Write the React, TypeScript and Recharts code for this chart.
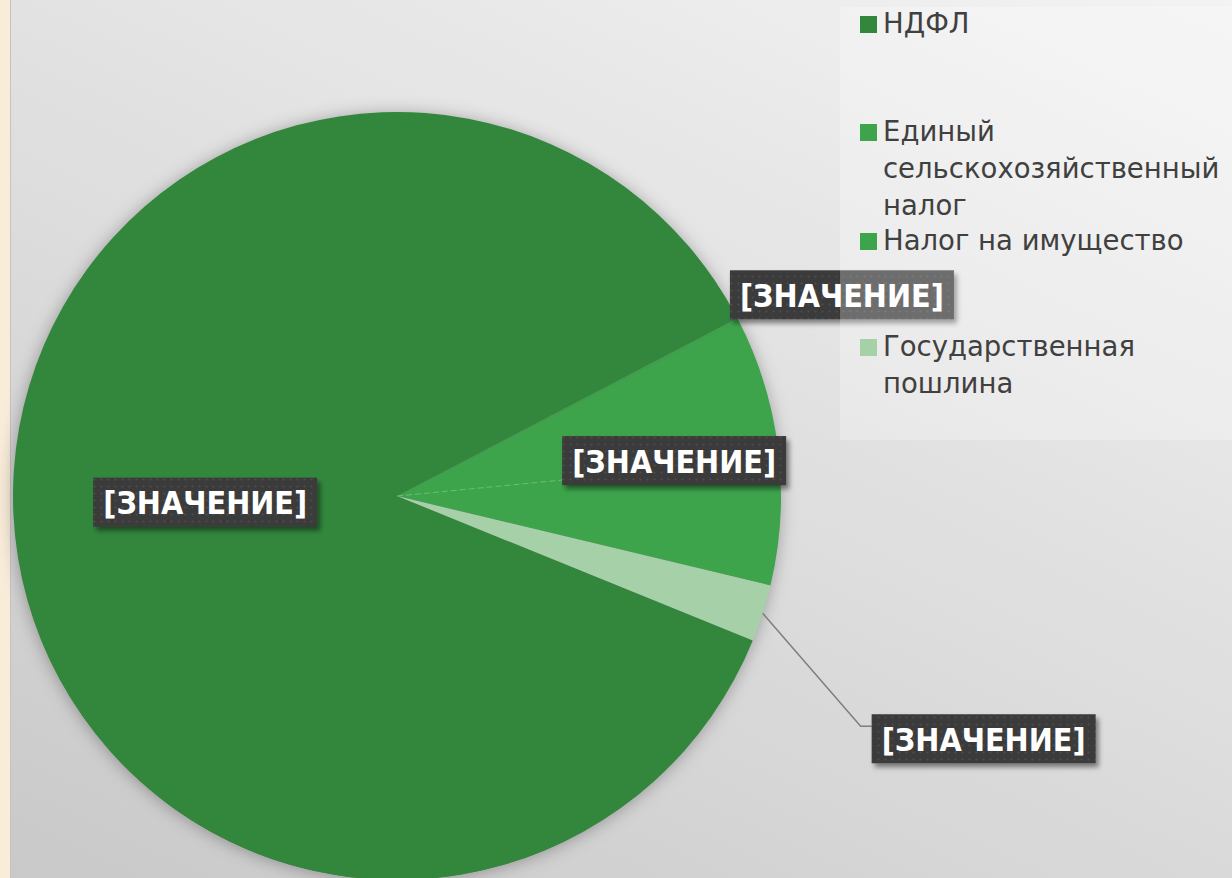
import React from 'react';
import { PieChart, Pie, Cell, Legend } from 'recharts';

// ---- data ----
const categories = [
  'НДФЛ',
  'Единый сельскохозяйственный налог',
  'Налог на имущество',
  'Государственная пошлина',
];
const shares = [86.2, 0.1, 11.3, 2.4];
const labelTexts = ['[ЗНАЧЕНИЕ]', '[ЗНАЧЕНИЕ]', '[ЗНАЧЕНИЕ]', '[ЗНАЧЕНИЕ]'];
const legendLines = [
  ['НДФЛ'],
  ['Единый', 'сельскохозяйственный', 'налог'],
  ['Налог на имущество'],
  ['Государственная', 'пошлина'],
];
const colors = ['#32873D', '#3DA44B', '#3DA44B', '#A6D1A8'];

const data = categories.map((name, i) => ({ name, value: shares[i] }));
const totalData = [{ name: 'all', value: shares.reduce((a, b) => a + b, 0) }];

// ---- styling constants ----
const W = 1232;
const H = 878;
const CX = 397;
const CY = 496;
const R = 384;
const START = -22.1;
const BOX_W = 224;
const BOX_H = 49;
const LEGEND_TOPS = [0, 108, 217, 323];
const LABEL_FONT = '"DejaVu Sans Condensed", "DejaVu Sans", sans-serif';
const RAD = Math.PI / 180;

function LabelBox({ x, y, text }: { x: number; y: number; text: string }) {
  return (
    <g>
      <rect x={x} y={y} width={BOX_W} height={BOX_H} fill="#3a3a3a" filter="url(#boxShadow)" />
      <rect x={x} y={y} width={BOX_W} height={BOX_H} fill="url(#dots)" />
      <text
        x={x + BOX_W / 2}
        y={y + BOX_H / 2 + 1}
        textAnchor="middle"
        dominantBaseline="central"
        fill="#ffffff"
        fontFamily={LABEL_FONT}
        fontWeight="bold"
        fontSize={32}
      >
        {text}
      </text>
    </g>
  );
}

function renderLabel(props: any) {
  const { cx, cy, midAngle, outerRadius, index } = props;
  const text = labelTexts[index];
  const pt = (r: number) => ({
    x: cx + r * Math.cos(-midAngle * RAD),
    y: cy + r * Math.sin(-midAngle * RAD),
  });
  if (index === 0) {
    const p = pt(outerRadius * 0.5);
    return <LabelBox key={index} x={p.x - BOX_W / 2} y={p.y - BOX_H / 2 - 3} text={text} />;
  }
  if (index === 1) {
    const p = pt(outerRadius);
    return <LabelBox key={index} x={p.x - 8} y={p.y - BOX_H} text={text} />;
  }
  if (index === 2) {
    const p = pt(outerRadius * 0.727);
    const bx = p.x - BOX_W / 2;
    const by = p.y - BOX_H / 2 - 2;
    return (
      <g key={index}>
        <line x1={cx} y1={cy} x2={bx} y2={by + 44} stroke="rgba(255,255,255,0.25)" strokeWidth={1} strokeDasharray="6 3" />
        <LabelBox x={bx} y={by} text={text} />
      </g>
    );
  }
  const p = pt(outerRadius);
  const ex = p.x + 98;
  const ey = p.y + 113;
  const bx = ex + 11;
  const by = ey - 12;
  return (
    <g key={index}>
      <polyline points={`${p.x},${p.y} ${ex},${ey} ${bx},${ey}`} fill="none" stroke="#7f7f7f" strokeWidth={1.5} />
      <LabelBox x={bx} y={by} text={text} />
    </g>
  );
}

function renderLegend() {
  return (
    <div
      style={{
        position: 'relative',
        width: 392,
        height: 433,
        background: 'rgba(255,255,255,0.26)',
        fontFamily: '"DejaVu Sans", sans-serif',
        fontSize: 27.5,
        color: '#404040',
      }}
    >
      {categories.map((c, i) => (
        <div key={c} style={{ position: 'absolute', left: 0, top: LEGEND_TOPS[i], width: 392 }}>
          <div
            style={{
              position: 'absolute',
              left: 20,
              top: 9,
              width: 17,
              height: 17,
              background: colors[i],
            }}
          />
          <div style={{ position: 'absolute', left: 43, top: -2, lineHeight: '37px', whiteSpace: 'nowrap' }}>
            {legendLines[i].map((l, j) => (
              <div key={j}>{l}</div>
            ))}
          </div>
        </div>
      ))}
    </div>
  );
}

export default function App() {
  return (
    <div style={{ position: 'fixed', left: 0, top: 0, width: W, height: H, overflow: 'hidden' }}>
      <div
        style={{
          position: 'absolute',
          left: 11,
          top: 0,
          width: W - 11,
          height: H,
          background: 'linear-gradient(205deg, #f3f3f3 0%, #e2e2e2 40%, #c9c9c9 100%)',
        }}
      />
      <div style={{ position: 'absolute', left: 0, top: 0, width: 10, height: H, background: '#f9ecd9' }} />
      <div style={{ position: 'absolute', left: 10, top: 0, width: 1, height: H, background: '#c3c3c3' }} />
      <div style={{ position: 'absolute', left: 0, top: 0 }}>
        <PieChart width={W} height={H} margin={{ top: 0, right: 0, bottom: 0, left: 0 }}>
          <defs>
            <filter id="pieShadow" x="-20%" y="-20%" width="140%" height="140%">
              <feDropShadow dx="0" dy="0" stdDeviation="9" floodColor="#000" floodOpacity="0.35" />
            </filter>
            <filter id="boxShadow" x="-10%" y="-20%" width="130%" height="160%">
              <feDropShadow dx="3" dy="4" stdDeviation="2.5" floodColor="#000" floodOpacity="0.45" />
            </filter>
            <pattern id="dots" width="7" height="7" patternUnits="userSpaceOnUse">
              <circle cx="3.5" cy="3.5" r="1.1" fill="rgba(255,255,255,0.09)" />
            </pattern>
          </defs>
          <Pie
            data={totalData}
            dataKey="value"
            cx={CX}
            cy={CY}
            outerRadius={R - 1.5}
            startAngle={START}
            endAngle={START - 360}
            stroke="none"
            isAnimationActive={false}
            legendType="none"
          >
            <Cell fill="#6a6a6a" filter="url(#pieShadow)" />
          </Pie>
          <Pie
            data={data}
            dataKey="value"
            nameKey="name"
            cx={CX}
            cy={CY}
            outerRadius={R}
            startAngle={START}
            endAngle={START - 360}
            stroke="none"
            isAnimationActive={false}
            label={renderLabel}
            labelLine={false}
          >
            {data.map((d, i) => (
              <Cell key={d.name} fill={colors[i]} />
            ))}
          </Pie>
          <Legend
            content={renderLegend}
            wrapperStyle={{ position: 'absolute', left: 840, top: 7, width: 392, height: 433 }}
          />
        </PieChart>
      </div>
    </div>
  );
}
